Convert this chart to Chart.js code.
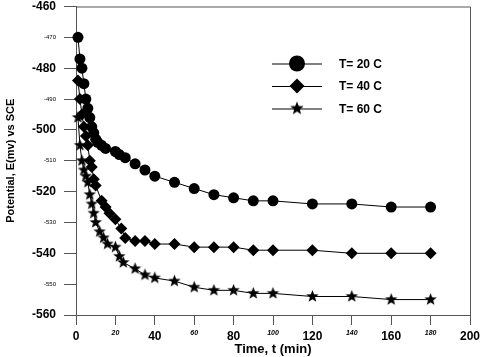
<!DOCTYPE html>
<html>
<head>
<meta charset="utf-8">
<style>
  html, body { margin: 0; padding: 0; background: #fff; }
  #wrap { width: 480px; height: 357px; position: relative; }
</style>
</head>
<body>
<div id="wrap"><canvas id="potChart"></canvas></div>
<script src="https://cdn.jsdelivr.net/npm/chart.js"></script>
<script>
  // datos (E en mV vs SCE, t en min)
  const t20 = [1, 2, 3, 4, 5, 6, 7, 8, 9, 10, 11, 13, 15, 20, 22, 25, 30, 35, 40, 50, 60, 70, 80, 90, 100, 120, 140, 160, 180];
  const e20 = [-470, -477, -480, -485, -490, -493, -496, -499, -501, -503, -504, -505, -506, -507, -508, -509, -511, -513, -515, -517, -519, -521, -522, -523, -523, -524, -524, -525, -525];

  const t40 = [1, 2, 3, 4, 5, 6, 7, 8, 9, 10, 13, 15, 17, 20, 23, 25, 30, 35, 40, 50, 60, 70, 80, 90, 100, 120, 140, 160, 180];
  const e40 = [-484, -490, -495, -499, -502, -505, -510, -512, -516, -518, -523, -525, -527, -529, -532, -535, -536, -536, -537, -537, -538, -538, -538, -539, -539, -539, -540, -540, -540];

  const t60 = [1, 2, 3, 4, 5, 6, 7, 8, 9, 10, 12, 14, 16, 20, 22, 24, 30, 35, 40, 50, 60, 70, 80, 90, 100, 120, 140, 160, 180];
  const e60 = [-496, -505, -510, -513, -515, -517, -521, -524, -527, -530, -533, -535, -537, -538, -541, -543, -545, -547, -548, -549, -551, -552, -552, -553, -553, -554, -554, -555, -555];

  const etiquetas = ['T= 20 C', 'T= 40 C', 'T= 60 C'];

  const FUENTE = '"Liberation Sans", Arial, sans-serif';

  // estrella rellena (la 'star' de Chart.js es solo trazo)
  function hacerEstrella(r) {
    const c = document.createElement('canvas');
    const s = Math.ceil(r * 2) + 2;
    c.width = s; c.height = s;
    const g = c.getContext('2d');
    g.fillStyle = '#000';
    g.beginPath();
    for (let i = 0; i < 10; i++) {
      const rad = i % 2 === 0 ? r : r * 0.42;
      const a = -Math.PI / 2 + i * Math.PI / 5;
      const px = s / 2 + rad * Math.cos(a);
      const py = s / 2 + rad * Math.sin(a);
      i === 0 ? g.moveTo(px, py) : g.lineTo(px, py);
    }
    g.closePath();
    g.fill();
    return c;
  }
  const estrella = hacerEstrella(6.5);
  const estrellaLey = hacerEstrella(7);

  const pares = (xs, ys) => xs.map((x, i) => ({ x, y: ys[i] }));

  const base = {
    borderColor: '#000',
    backgroundColor: '#000',
    borderWidth: 1,
    pointBorderWidth: 0,
    tension: 0,
    fill: false,
    clip: false
  };

  const datasets = [
    { ...base, label: etiquetas[0], data: pares(t20, e20), pointStyle: 'circle', pointRadius: 5.5, leyRadio: 8 },
    { ...base, label: etiquetas[1], data: pares(t40, e40), pointStyle: 'rectRot', pointRadius: 6, leyRadio: 7.5 },
    { ...base, label: etiquetas[2], data: pares(t60, e60), pointStyle: estrella, pointRadius: 6.5, leyEstilo: estrellaLey, leyRadio: 7 }
  ];

  // marco superior/derecho + leyenda dentro del área
  const marcoYLeyenda = {
    id: 'marcoYLeyenda',
    afterDraw(chart) {
      const { ctx, chartArea: a } = chart;
      ctx.save();
      ctx.strokeStyle = '#555';
      ctx.lineWidth = 1;
      ctx.beginPath();
      ctx.moveTo(a.left, a.top + 0.5);
      ctx.lineTo(a.right + 0.5, a.top + 0.5);
      ctx.lineTo(a.right + 0.5, a.bottom);
      ctx.stroke();

      const x0 = a.left + 196, x1 = a.left + 246;
      chart.data.datasets.forEach((ds, i) => {
        const y = a.top + 57 + i * 22.5;
        ctx.strokeStyle = '#000';
        ctx.beginPath();
        ctx.moveTo(x0, y + 0.5);
        ctx.lineTo(x1, y + 0.5);
        ctx.stroke();
        Chart.helpers.drawPoint(ctx, {
          pointStyle: ds.leyEstilo || ds.pointStyle,
          radius: ds.leyRadio,
          rotation: 0,
          borderWidth: 0
        }, (x0 + x1) / 2, y);
        ctx.fillStyle = '#000';
        ctx.font = 'bold 12px ' + FUENTE;
        ctx.textBaseline = 'middle';
        ctx.textAlign = 'left';
        ctx.fillText(ds.label, x1 + 17, y + 1);
      });
      ctx.restore();
    }
  };

  new Chart(document.getElementById('potChart'), {
    type: 'line',
    data: { datasets },
    plugins: [marcoYLeyenda],
    options: {
      responsive: true,
      maintainAspectRatio: false,
      animation: false,
      layout: { padding: { top: 5, right: 10, left: 0, bottom: 0 } },
      plugins: { legend: { display: false }, tooltip: { enabled: false } },
      scales: {
        x: {
          type: 'linear',
          min: 0, max: 200,
          ticks: {
            stepSize: 20,
            color: '#000',
            padding: 4,
            maxRotation: 0,
            font: c => (c.tick && c.tick.value % 40 === 0)
              ? { family: FUENTE, size: 12, weight: 'bold' }
              : { family: FUENTE, size: 7, style: 'italic', weight: 'bold' }
          },
          grid: { drawOnChartArea: false, color: '#555', tickLength: 10 },
          border: { color: '#555' },
          title: {
            display: true,
            text: 'Time, t (min)',
            color: '#000',
            font: { family: FUENTE, size: 13, weight: 'bold' },
            padding: { top: 0, bottom: 0 }
          },
          afterFit: s => { s.height = 42; s.paddingLeft = 0; s.paddingRight = 0; }
        },
        y: {
          min: -560, max: -460,
          ticks: {
            stepSize: 10,
            color: '#000',
            padding: 8,
            callback: v => String(v),
            font: c => (c.tick && c.tick.value % 20 === 0)
              ? { family: FUENTE, size: 12, weight: 'bold' }
              : { family: FUENTE, size: 6 }
          },
          grid: { drawOnChartArea: false, color: '#555', tickLength: 12 },
          border: { color: '#555' },
          title: {
            display: true,
            text: 'Potential, E(mv) vs SCE',
            color: '#000',
            font: { family: FUENTE, size: 11, weight: 'bold' },
            padding: { top: 4, bottom: 0 }
          },
          afterFit: s => { s.width = 76; s.paddingTop = 0; s.paddingBottom = 0; }
        }
      }
    }
  });
</script>
</body>
</html>
